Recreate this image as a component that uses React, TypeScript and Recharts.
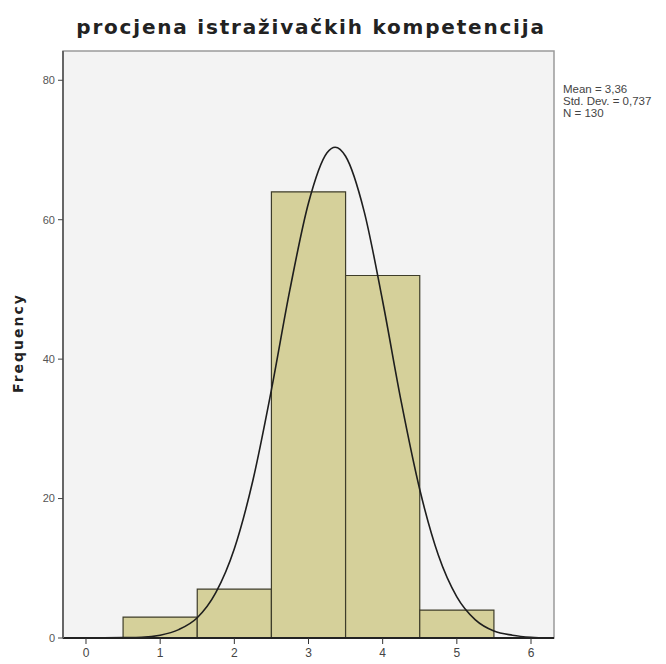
import {
  ComposedChart,
  Line,
  XAxis,
  YAxis,
  ReferenceArea,
  Customized,
} from "recharts";

const TITLE = "procjena istraživačkih kompetencija";
const Y_LABEL = "Frequency";
const STATS = ["Mean = 3,36", "Std. Dev. = 0,737", "N = 130"];

// histogram bins
const BIN_START = [0.5, 1.5, 2.5, 3.5, 4.5];
const BIN_END = [1.5, 2.5, 3.5, 4.5, 5.5];
const COUNTS = [3, 7, 64, 52, 4];

// normal curve
const CURVE_X = [0, 0.5, 0.75, 1, 1.25, 1.5, 1.75, 2, 2.25, 2.5, 2.75, 3, 3.25, 3.36, 3.5, 3.75, 4, 4.25, 4.5, 4.75, 5, 5.25, 5.5, 5.75, 6, 6.25];
const CURVE_Y = [0, 0.05, 0.1, 0.4, 1.2, 2.9, 6.5, 12.8, 22.6, 35.6, 50, 62.4, 69.6, 70.4, 69.1, 61.2, 48.3, 33.9, 21.3, 11.9, 5.9, 2.6, 1, 0.4, 0.1, 0];

const X_TICKS = [0, 1, 2, 3, 4, 5, 6];
const Y_TICKS = [0, 20, 40, 60, 80];
const X_DOMAIN: [number, number] = [-0.31, 6.31];
const Y_DOMAIN: [number, number] = [0, 84.2];

const W = 666;
const H = 664;

const narrow = "'Liberation Sans Narrow', 'Arial Narrow', 'Liberation Sans', sans-serif";

export default function App() {
  const data = CURVE_X.map((x, i) => ({ x, y: CURVE_Y[i] }));

  return (
    <div style={{ position: "absolute", left: 0, top: 0, width: W, height: H, background: "#fff" }}>
      <ComposedChart
        width={W}
        height={H}
        data={data}
        margin={{ top: 51, right: 112, bottom: 0, left: 0 }}
      >
        <XAxis
          dataKey="x"
          type="number"
          domain={X_DOMAIN}
          ticks={X_TICKS}
          allowDataOverflow
          height={26}
          axisLine={{ stroke: "#222", strokeWidth: 2 }}
          tickLine={{ stroke: "#333" }}
          tickSize={6}
          tickMargin={4}
          tick={{ fill: "#444", fontSize: 12, fontFamily: narrow }}
        />
        <YAxis
          type="number"
          domain={Y_DOMAIN}
          ticks={Y_TICKS}
          allowDataOverflow
          width={63}
          axisLine={{ stroke: "#666", strokeWidth: 2 }}
          tickLine={{ stroke: "#444" }}
          tickSize={5}
          tickMargin={3}
          tick={{ fill: "#555", fontSize: 11, fontFamily: narrow }}
        />
        <ReferenceArea
          x1={X_DOMAIN[0]}
          x2={X_DOMAIN[1]}
          y1={Y_DOMAIN[0]}
          y2={Y_DOMAIN[1]}
          fill="#f3f3f3"
          fillOpacity={1}
          stroke="#9a9a9a"
          strokeWidth={1.5}
          ifOverflow="visible"
        />
        {COUNTS.map((c, i) => (
          <ReferenceArea
            key={i}
            x1={BIN_START[i]}
            x2={BIN_END[i]}
            y1={0}
            y2={c}
            fill="#d5d09a"
            fillOpacity={1}
            stroke="#3e3d2a"
            strokeWidth={1.2}
            ifOverflow="visible"
          />
        ))}
        <Line
          dataKey="y"
          type="monotone"
          stroke="#1e1e1e"
          strokeWidth={1.6}
          dot={false}
          isAnimationActive={false}
        />
        <Customized
          component={() => (
            <g>
              <text
                x={311}
                y={34}
                textAnchor="middle"
                fontFamily="'DejaVu Sans', Verdana, sans-serif"
                fontWeight="bold"
                fontSize={20}
                letterSpacing={1.8}
                fill="#222"
              >
                {TITLE}
              </text>
              <text
                x={0}
                y={0}
                transform="translate(23 343) rotate(-90)"
                textAnchor="middle"
                fontFamily="'DejaVu Sans', Verdana, sans-serif"
                fontWeight="bold"
                fontSize={14}
                letterSpacing={2}
                fill="#222"
              >
                {Y_LABEL}
              </text>
              {STATS.map((s, i) => (
                <text
                  key={s}
                  x={563}
                  y={93 + i * 12}
                  fontFamily={narrow}
                  fontSize={11.5}
                  fill="#444"
                >
                  {s}
                </text>
              ))}
            </g>
          )}
        />
      </ComposedChart>
    </div>
  );
}
